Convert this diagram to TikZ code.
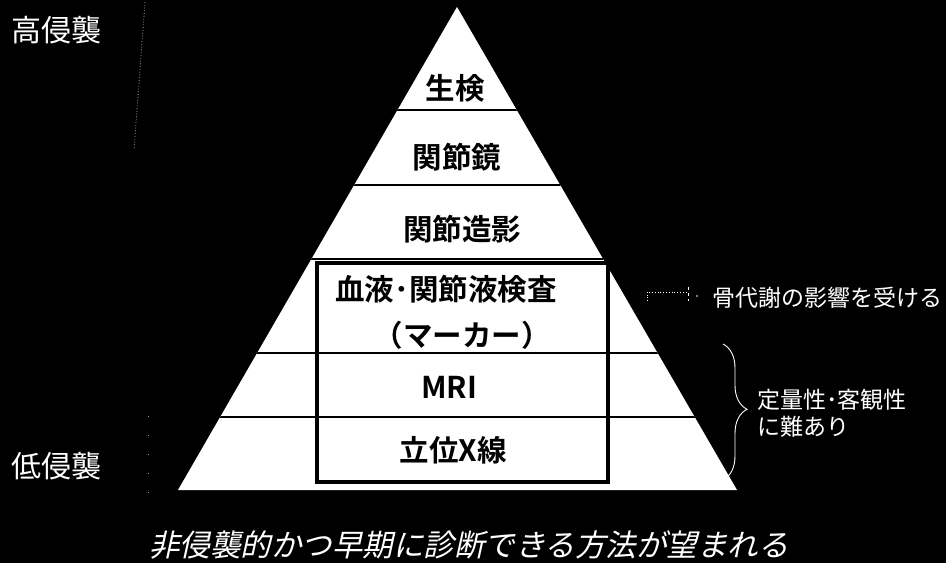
\documentclass[tikz,border=0pt]{standalone}
\usepackage{fontspec}
\usetikzlibrary{decorations.pathreplacing}
\newfontfamily\jp{Noto Sans CJK JP}
\newfontfamily\jpb{Noto Sans CJK JP Bold}
\newfontfamily\jpi[FakeSlant=0.22]{Noto Sans CJK JP}
\tikzset{
  lvl/.style={font=\jpb\fontsize{29.5}{32}\selectfont, text=black, inner sep=0pt},
  side/.style={font=\jp\fontsize{30}{32}\selectfont, text=white, inner sep=0pt},
  note/.style={font=\jp\fontsize{23}{26}\selectfont, text=white, inner sep=0pt},
  sepline/.style={black, line width=2.6pt},
  faint/.style={gray!70, line width=0.8pt, dotted}
}
\begin{document}
\begin{tikzpicture}[x=1pt,y=-1pt]
\useasboundingbox (0,0) rectangle (946,563);
\fill[black] (0,0) rectangle (946,563);
% pyramid
\coordinate (apex) at (457,7);
\coordinate (bl) at (178,490);
\coordinate (br) at (737,490);
\fill[white] (apex) -- (br) -- (bl) -- cycle;
\begin{scope}
  \clip (apex) -- (br) -- (bl) -- cycle;
  \foreach \yy in {110,185,259,353,417} {
    \draw[sepline] (150,\yy) -- (760,\yy);
  }
\end{scope}
% box
\draw[black, line width=3.2pt] (317,263) rectangle (608,482);
% level labels
\node[lvl] (l1) at (455,88) {生検};
\node[lvl] (l2) at (457,157) {関節鏡};
\node[lvl] (l3) at (462,229) {関節造影};
\node[lvl] (l4) at (446,289) {血液･関節液検査};
\node[lvl] (l4b) at (462,335) {（マーカー）};
\node[lvl, font=\jpb\fontsize{30}{32}\selectfont] (l5) at (449,387) {MRI};
\node[lvl] (l6) at (453,450) {立位X線};
% side labels
\node[side, anchor=west] (hi) at (11,30) {高侵襲};
\node[side, anchor=west] (lo) at (11,466) {低侵襲};
\coordinate (ft) at (145,2);
\coordinate (fb) at (134,150);
\draw[faint] (ft) -- (fb);
\coordinate (gt) at (148,416);
\coordinate (gb) at (148,497);
\draw[faint, dash pattern=on 1pt off 18pt] (gt) -- (gb);
% right notes
\node[note, anchor=west] (bone) at (712,298) {骨代謝の影響を受ける};
\coordinate (d0) at (647,301);
\coordinate (d1) at (647,292);
\coordinate (d2) at (688,292);
\draw[white, line width=0.8pt, dotted] (d0) -- (d1) -- (d2);
\draw[white, line width=0.8pt, dashed] (688,287) -- (688,301);
\fill[white] (697,296) circle (0.9pt);
\node[note, anchor=west] (q1) at (757,400) {定量性･客観性};
\node[note, anchor=west] (q2) at (757,427) {に難あり};
\coordinate (bt) at (723,344);
\coordinate (bb) at (723,480);
\draw[white, line width=0.9pt, decorate, decoration={brace, amplitude=24pt, aspect=0.48}] (bt) -- (bb);
% bottom
\node[font=\jpi\fontsize{30.5}{33}\selectfont, text=white, inner sep=0pt] (msg) at (469,545) {非侵襲的かつ早期に診断できる方法が望まれる};
\end{tikzpicture}
\end{document}
